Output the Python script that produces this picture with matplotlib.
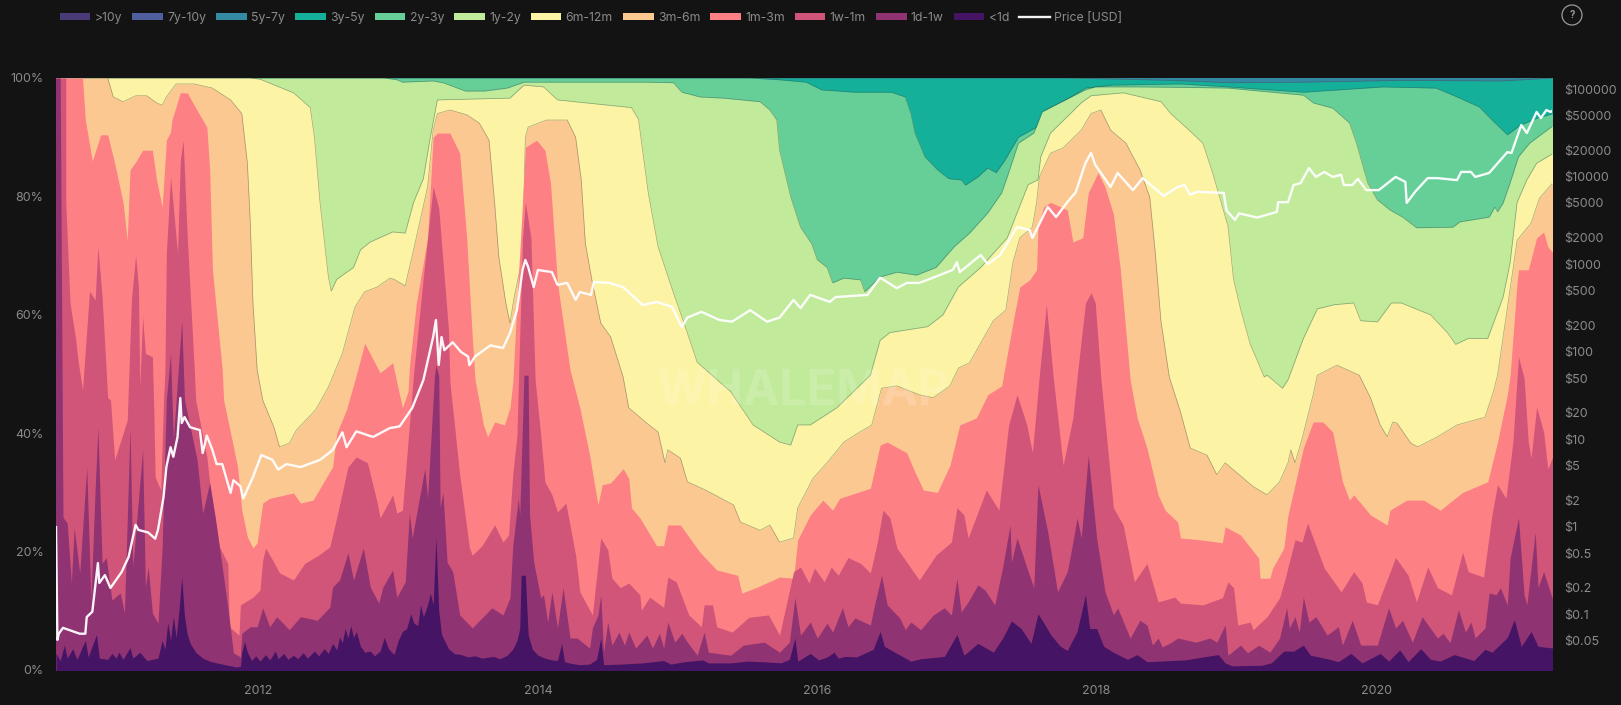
import numpy as np
import matplotlib
matplotlib.use('Agg')
import matplotlib.pyplot as plt
import matplotlib.patches as patches
from matplotlib.ticker import FixedLocator, NullLocator, FuncFormatter

plt.rcParams['font.family'] = ['Inter', 'DejaVu Sans']

# Every band is stored as (decimal year, cumulative % of supply at its upper edge)
top_lt1d = [
    (2010.55,2.8),(2010.58,1.6),(2010.61,4.2),(2010.63,2),(2010.67,3.6),(2010.70,1.8),(2010.76,5),(2010.78,2.2),
    (2010.84,6),(2010.86,2),(2010.92,1.8),(2010.95,2.8),(2010.98,2),(2011.00,3),(2011.03,1.8),(2011.08,3.8),
    (2011.10,2),(2011.15,3),(2011.20,1.6),(2011.28,2),(2011.31,5),(2011.33,3.5),(2011.35,8),(2011.37,5),
    (2011.39,9),(2011.41,5.5),(2011.43,10),(2011.45,15.7),(2011.47,9),(2011.49,6),(2011.51,4.5),(2011.55,3),
    (2011.60,2),(2011.65,1.5),(2011.70,1.2),(2011.78,.8),(2011.84,.5),(2011.87,.6),(2011.88,3),(2011.90,4.8),
    (2011.92,3),(2011.95,1.6),(2011.98,2.4),(2012.01,1.5),(2012.05,2.6),(2012.08,1.7),(2012.12,3.2),(2012.14,1.9),
    (2012.18,2.8),(2012.21,1.8),(2012.25,2.5),(2012.28,1.9),(2012.32,2.9),(2012.35,2),(2012.40,3.2),(2012.43,2.4),
    (2012.47,3.6),(2012.50,2.8),(2012.53,4.5),(2012.56,3.4),(2012.58,5.6),(2012.60,4.6),(2012.62,7),(2012.64,5.4),
    (2012.66,7.5),(2012.68,5.5),(2012.70,6.5),(2012.73,4),(2012.76,3),(2012.80,3.2),(2012.83,2.4),(2012.87,3.2),
    (2012.90,5.5),(2012.93,3.6),(2012.97,2.6),(2013.00,5),(2013.03,6.5),(2013.06,7),(2013.09,9.5),(2013.11,8),
    (2013.14,7.5),(2013.16,11),(2013.18,9),(2013.21,11),(2013.23,13),(2013.25,11),(2013.27,22.3),(2013.29,10),
    (2013.31,6),(2013.33,5),(2013.36,3.6),(2013.40,2.8),(2013.45,2.6),(2013.50,2.2),(2013.55,2.4),(2013.60,2),
    (2013.68,2.3),(2013.73,1.9),(2013.78,2.5),(2013.82,3.5),(2013.85,5),(2013.87,7),(2013.88,16),(2013.91,16),
    (2013.93,6),(2013.96,3.5),(2014.00,2.5),(2014.05,2),(2014.10,1.7),(2014.14,1.6),(2014.17,4.5),(2014.19,1.4),
    (2014.24,1.1),(2014.30,.9),(2014.37,1),(2014.42,1.8),(2014.45,5.4),(2014.47,.9),(2014.60,1),(2014.75,1.2),
    (2014.90,1.6),(2014.95,1),(2015.05,1.4),(2015.18,1.7),(2015.22,1.2),(2015.38,1.2),(2015.50,1.5),(2015.61,1.4),
    (2015.74,1.2),(2015.80,1.8),(2015.84,5.4),(2015.86,1.5),(2015.95,2.8),(2016.01,1.7),(2016.07,2.2),(2016.12,3),
    (2016.15,2),(2016.20,2.3),(2016.28,2.2),(2016.40,3.5),(2016.45,6.5),(2016.48,4),(2016.57,2.8),(2016.67,1.5),
    (2016.74,1.9),(2016.91,2.3),(2017.00,6),(2017.05,2.5),(2017.15,4.5),(2017.26,3),(2017.33,5.5),(2017.39,8.3),
    (2017.46,7),(2017.53,4.5),(2017.58,9.5),(2017.62,8),(2017.67,6),(2017.74,4),(2017.79,3.3),(2017.86,6.5),
    (2017.92,12.7),(2017.95,7),(2018.00,7),(2018.05,4),(2018.12,3),(2018.22,1.8),(2018.29,2.6),(2018.36,1.4),
    (2018.63,1.7),(2018.87,2.6),(2018.92,1.2),(2018.97,.7),(2019.18,.8),(2019.25,1.2),(2019.34,3.2),(2019.41,3.2),
    (2019.48,4.2),(2019.53,2.5),(2019.67,1.8),(2019.73,1.4),(2019.82,2.8),(2019.90,1.2),(2020.03,2.8),(2020.09,1.5),
    (2020.17,3.4),(2020.23,1.4),(2020.32,3.6),(2020.39,1.8),(2020.46,1.5),(2020.56,2.6),(2020.70,1.6),(2020.78,3.5),
    (2020.83,3),(2020.94,5.5),(2020.99,8.5),(2021.04,4),(2021.11,6.5),(2021.16,4),(2021.27,3.7),
]
top_1d1w = [
    (2010.50,100),(2010.58,100),(2010.60,25.8),(2010.63,24.8),(2010.66,14.7),(2010.68,24),(2010.72,16.4),(2010.77,34.3),
    (2010.80,11.8),(2010.83,30.4),(2010.85,41),(2010.88,18),(2010.91,19),(2010.95,11.8),(2011.01,13),(2011.04,9.6),
    (2011.08,41),(2011.10,17.4),(2011.17,37.2),(2011.19,14),(2011.21,17.4),(2011.24,9.6),(2011.28,7.9),(2011.31,20.8),
    (2011.34,45.6),(2011.37,53.5),(2011.39,38.9),(2011.41,45.6),(2011.44,55.7),(2011.45,59),(2011.47,45.6),(2011.56,35.5),
    (2011.58,31),(2011.60,26.5),(2011.65,31.6),(2011.69,25.8),(2011.74,17.4),(2011.78,10.6),(2011.82,2.9),(2011.87,2.2),
    (2011.88,6.2),(2011.94,7.3),(2011.99,7.3),(2012.03,10.5),(2012.08,7.3),(2012.13,9),(2012.22,6.8),(2012.30,9),
    (2012.42,8.4),(2012.51,10.6),(2012.53,14),(2012.58,15.2),(2012.64,19.8),(2012.68,15.2),(2012.75,20.6),(2012.80,14),
    (2012.86,11.3),(2012.89,14),(2012.96,16.9),(2012.99,12.3),(2013.05,14.9),(2013.08,26.5),(2013.10,22.3),(2013.19,34),
    (2013.21,29),(2013.26,49.8),(2013.27,51.5),(2013.29,49.8),(2013.30,27.4),(2013.32,30),(2013.35,18.2),(2013.39,16.6),
    (2013.44,9.3),(2013.53,7.1),(2013.67,10.5),(2013.75,9.3),(2013.80,12.2),(2013.82,21),(2013.86,29),(2013.87,26.2),
    (2013.90,49.8),(2013.93,49.8),(2013.94,26.2),(2013.97,18.2),(2014.02,12.2),(2014.04,12.7),(2014.07,8.1),(2014.10,13.2),
    (2014.14,7.1),(2014.18,13.9),(2014.23,5.4),(2014.28,5.4),(2014.37,3.7),(2014.39,7.1),(2014.43,9.3),(2014.45,12.7),
    (2014.47,3),(2014.50,8.1),(2014.53,4.2),(2014.58,6.4),(2014.62,4.2),(2014.65,6.4),(2014.70,3.7),(2014.78,5.9),
    (2014.82,3.7),(2014.87,6.2),(2014.90,3.7),(2014.93,8.1),(2014.98,4.7),(2015.03,6.2),(2015.07,4.7),(2015.14,2.5),
    (2015.19,6.4),(2015.22,3),(2015.38,2.5),(2015.47,4.2),(2015.62,4.7),(2015.73,3),(2015.80,4.7),(2015.84,12.2),
    (2015.88,5.9),(2015.95,8.1),(2016.00,5.4),(2016.07,7.9),(2016.11,6.4),(2016.18,10.5),(2016.22,7.3),(2016.27,8.8),
    (2016.38,7.6),(2016.41,11),(2016.46,16),(2016.50,11),(2016.59,8.8),(2016.63,6.8),(2016.67,8.1),(2016.74,6.8),
    (2016.83,9.3),(2016.91,10.5),(2016.96,9.3),(2017.00,15.5),(2017.03,9.8),(2017.08,11.5),(2017.15,14.4),(2017.20,13.5),
    (2017.27,11),(2017.33,17.7),(2017.38,24.5),(2017.39,18.2),(2017.43,22.3),(2017.51,16.6),(2017.55,13.9),(2017.58,31.3),
    (2017.65,23.3),(2017.72,13.2),(2017.79,16.6),(2017.83,21.6),(2017.86,25.7),(2017.89,22.3),(2017.94,36.3),(2018.00,22.3),
    (2018.06,13.2),(2018.12,9.3),(2018.15,10.5),(2018.24,5.4),(2018.31,8.4),(2018.36,7.6),(2018.40,4.2),(2018.44,5.4),
    (2018.47,3.9),(2018.53,4.6),(2018.58,5.4),(2018.71,4.7),(2018.81,5.4),(2018.86,4.7),(2018.92,7.6),(2018.94,2.5),
    (2019.03,4.2),(2019.08,2.9),(2019.16,4.2),(2019.24,3),(2019.31,5.4),(2019.36,10.5),(2019.38,7.1),(2019.42,9),
    (2019.45,6.4),(2019.48,12.3),(2019.52,8.1),(2019.57,9),(2019.65,5.9),(2019.73,7.3),(2019.76,4.2),(2019.83,8.4),
    (2019.89,4.2),(2020.01,4.2),(2020.09,10.5),(2020.14,7.1),(2020.19,8.4),(2020.26,4.7),(2020.33,9),(2020.44,5.4),
    (2020.48,6.2),(2020.53,4.6),(2020.59,10.2),(2020.64,6.4),(2020.68,8.1),(2020.71,5.4),(2020.78,7.1),(2020.81,13),
    (2020.86,12.7),(2020.89,13.9),(2020.94,11),(2020.96,18.9),(2021.02,25.7),(2021.06,12.7),(2021.08,11),(2021.14,23.3),
    (2021.16,13.9),(2021.20,16.6),(2021.27,11.5),
]
top_1w1m = [
    (2010.50,100),(2010.62,100),(2010.62,79),(2010.65,62),(2010.69,56),(2010.71,51.9),(2010.74,47.3),(2010.77,57.4),
    (2010.79,64),(2010.83,62.5),(2010.85,71.5),(2010.88,63),(2010.92,46),(2010.94,45.6),(2010.97,35.5),(2011.06,42.2),
    (2011.09,62.5),(2011.12,70),(2011.14,64.7),(2011.15,47.8),(2011.17,59.6),(2011.19,53.5),(2011.24,52.9),(2011.25,44),
    (2011.26,32.6),(2011.30,30.4),(2011.32,45.6),(2011.33,50.7),(2011.34,70.4),(2011.37,83.3),(2011.42,70.4),(2011.44,86),
    (2011.46,89.5),(2011.49,73),(2011.54,50.7),(2011.55,45.6),(2011.63,36),(2011.65,31.6),(2011.72,20.8),(2011.78,18),
    (2011.79,7.3),(2011.86,5.9),(2011.87,11),(2011.96,12.3),(2012.01,13.5),(2012.03,18.6),(2012.05,20.6),(2012.10,18.6),
    (2012.15,16.4),(2012.25,15.2),(2012.33,18),(2012.43,19.4),(2012.51,20.8),(2012.56,25.8),(2012.64,34.3),(2012.70,36),
    (2012.78,35),(2012.85,28.2),(2012.87,25.7),(2012.94,28.7),(2012.96,29.6),(2012.99,26.5),(2013.03,27),(2013.07,38.5),
    (2013.11,50),(2013.18,66.4),(2013.25,81.6),(2013.29,78),(2013.36,57.4),(2013.37,48.6),(2013.44,33),(2013.51,20.6),
    (2013.53,19.4),(2013.60,21),(2013.69,24.5),(2013.75,21.6),(2013.79,22.8),(2013.82,33),(2013.85,39.7),(2013.89,73),
    (2013.91,79),(2013.95,73),(2013.98,49),(2014.02,39.7),(2014.05,31.8),(2014.10,29.6),(2014.14,26.7),(2014.20,28.2),
    (2014.27,19.4),(2014.30,13.2),(2014.39,9.3),(2014.45,22.3),(2014.50,20.3),(2014.53,15.5),(2014.59,13.9),(2014.65,14.7),
    (2014.73,12.7),(2014.74,10.1),(2014.80,12.3),(2014.90,10.6),(2014.93,15.7),(2014.99,14.9),(2015.08,9.3),(2015.17,7.3),
    (2015.19,11),(2015.25,11),(2015.28,7.3),(2015.39,6.4),(2015.51,8.9),(2015.65,9.3),(2015.73,5.9),(2015.83,16.6),
    (2015.88,17.4),(2015.94,14.7),(2015.98,17.2),(2016.05,14.9),(2016.10,17.4),(2016.15,16),(2016.22,19),(2016.31,18),
    (2016.38,16.4),(2016.43,21.6),(2016.47,27),(2016.52,25.7),(2016.57,20.6),(2016.73,15.2),(2016.85,19.4),(2016.92,20.8),
    (2016.96,21.6),(2017.00,27.4),(2017.05,26.2),(2017.08,22.3),(2017.21,30.4),(2017.30,27),(2017.37,41.4),(2017.43,46.5),
    (2017.50,41.4),(2017.54,36.7),(2017.59,49.8),(2017.64,61.7),(2017.69,49.3),(2017.76,34.6),(2017.83,42.6),(2017.86,49.5),
    (2017.92,62),(2017.96,63.7),(2017.99,62),(2018.03,49.3),(2018.12,27.4),(2018.19,24.5),(2018.27,14.9),(2018.36,18),
    (2018.44,11.5),(2018.56,12.3),(2018.60,11.3),(2018.76,11),(2018.90,12.2),(2018.94,14.9),(2018.98,13.9),(2019.01,7.6),
    (2019.10,8.1),(2019.12,6.8),(2019.22,9),(2019.31,12.2),(2019.35,15.5),(2019.42,22),(2019.47,21.6),(2019.51,24.8),
    (2019.63,17.2),(2019.75,13.2),(2019.84,16.6),(2019.90,14.7),(2019.93,11.5),(2020.01,11),(2020.14,19),(2020.23,16),
    (2020.29,11.5),(2020.37,17.4),(2020.44,13.9),(2020.54,12.7),(2020.62,19.9),(2020.66,16.6),(2020.77,15.7),(2020.83,26.2),
    (2020.87,31.3),(2020.93,29),(2020.98,38.5),(2021.02,52.9),(2021.06,49.3),(2021.09,38.5),(2021.11,35.8),(2021.15,44.4),
    (2021.20,40.2),(2021.23,34),(2021.27,36.3),
]
top_1m3m = [
    (2010.50,100),(2010.74,100),(2010.76,92.9),(2010.81,86),(2010.87,90.4),(2010.92,90.4),(2010.97,85.6),(2011.03,79),
    (2011.06,72.6),(2011.08,84.5),(2011.12,85.8),(2011.17,87.8),(2011.24,87.8),(2011.27,82.8),(2011.31,78.2),(2011.34,89.5),
    (2011.37,90.9),(2011.38,92.9),(2011.44,97.5),(2011.49,97.5),(2011.53,95.8),(2011.63,91.7),(2011.65,84.5),(2011.67,67.6),
    (2011.74,50.7),(2011.75,45.6),(2011.80,40),(2011.85,34.3),(2011.88,27),(2011.92,22.5),(2011.96,20.6),(2011.99,21.5),
    (2012.03,28.2),(2012.08,29),(2012.25,29.9),(2012.30,28.2),(2012.39,28.7),(2012.53,34.3),(2012.56,40),(2012.63,44),
    (2012.71,50.7),(2012.76,55.2),(2012.87,50.2),(2012.96,51.9),(2012.99,48.6),(2013.03,44.3),(2013.07,47),(2013.08,51.2),
    (2013.13,62),(2013.21,73),(2013.25,90),(2013.28,90.7),(2013.37,90.7),(2013.44,87.3),(2013.49,73),(2013.53,56.3),
    (2013.55,49),(2013.61,41.4),(2013.64,39.4),(2013.69,41.9),(2013.76,41.4),(2013.80,44.3),(2013.82,48.6),(2013.85,62),
    (2013.89,79),(2013.91,88.3),(2013.99,89.5),(2014.05,87.8),(2014.09,82.3),(2014.14,65.4),(2014.23,50.7),(2014.30,44.3),
    (2014.37,36.3),(2014.43,27.9),(2014.46,31.3),(2014.52,31.6),(2014.61,34),(2014.65,32.4),(2014.67,27.4),(2014.73,25.7),
    (2014.85,21),(2014.90,21),(2014.93,24.5),(2015.02,24.5),(2015.16,19.9),(2015.28,16.9),(2015.43,16),(2015.46,13),
    (2015.57,14),(2015.73,15.7),(2015.83,15.5),(2015.86,22),(2015.95,26.2),(2016.04,28.7),(2016.11,27),(2016.16,29),
    (2016.38,30.7),(2016.45,38),(2016.50,38.5),(2016.64,36.7),(2016.70,33.4),(2016.76,30.4),(2016.86,30),(2016.95,34.6),
    (2017.02,41.4),(2017.14,42.6),(2017.22,46.5),(2017.32,48),(2017.40,58.6),(2017.45,64.7),(2017.52,65.9),(2017.57,67.6),
    (2017.58,74.8),(2017.62,78.2),(2017.67,79),(2017.79,77.7),(2017.83,72.3),(2017.90,73),(2017.94,80.6),(2018.01,84),
    (2018.06,81.6),(2018.12,77),(2018.17,67.6),(2018.24,49),(2018.29,42.6),(2018.36,37.5),(2018.44,29.6),(2018.49,27),
    (2018.58,25),(2018.60,22.3),(2018.74,22),(2018.90,21.5),(2018.92,24.2),(2019.03,22.8),(2019.16,18.9),(2019.17,15.5),
    (2019.24,15.5),(2019.26,17.2),(2019.34,20.6),(2019.37,26.2),(2019.42,31.3),(2019.48,37.5),(2019.55,41.9),(2019.62,41.9),
    (2019.69,40.2),(2019.76,31.8),(2019.81,28.7),(2019.84,29.6),(2019.96,26.2),(2020.08,24.5),(2020.10,27),(2020.22,28.7),
    (2020.34,28.7),(2020.46,27),(2020.62,30),(2020.80,31.8),(2020.87,38.5),(2020.94,46.5),(2020.96,49.8),(2021.01,65.4),
    (2021.02,67.6),(2021.09,67.6),(2021.15,73),(2021.20,74),(2021.23,71.5),(2021.27,70.4),
]
top_3m6m = [
    (2010.50,100),(2010.92,100),(2010.96,96.8),(2011.03,96),(2011.12,97),(2011.20,97),(2011.27,95.8),(2011.31,95.4),
    (2011.34,96.8),(2011.41,99),(2011.54,99),(2011.67,98.3),(2011.80,96.3),(2011.88,94),(2011.92,85.6),(2011.94,76),
    (2011.96,62),(2011.99,50.7),(2012.03,45.6),(2012.11,41),(2012.15,37.7),(2012.22,38.3),(2012.27,40.5),(2012.41,44),
    (2012.50,47.8),(2012.60,53.5),(2012.69,61.3),(2012.76,63.9),(2012.85,64.7),(2012.94,66.2),(2012.97,66),(2013.05,64.9),
    (2013.11,71),(2013.21,81.6),(2013.25,91.2),(2013.28,94),(2013.37,94.6),(2013.49,93.8),(2013.58,92.4),(2013.65,89.5),
    (2013.69,78.9),(2013.72,69.8),(2013.77,62),(2013.80,58.6),(2013.83,63),(2013.89,69.8),(2013.91,90),(2013.93,91.7),
    (2014.06,92.9),(2014.21,92.9),(2014.27,90),(2014.31,82.8),(2014.34,72),(2014.39,65.4),(2014.45,58.6),(2014.52,56.3),
    (2014.61,49.5),(2014.65,44.3),(2014.78,41.7),(2014.86,40.2),(2014.91,35),(2014.93,37.2),(2015.02,35.8),(2015.07,31.8),
    (2015.20,30.4),(2015.40,27.9),(2015.45,25),(2015.59,23.6),(2015.66,24.5),(2015.73,21.6),(2015.83,22.3),(2015.86,27.4),
    (2015.97,32.4),(2016.07,35),(2016.19,38.5),(2016.29,40),(2016.39,41.4),(2016.46,47.6),(2016.57,48),(2016.73,46.5),
    (2016.83,46),(2016.95,48),(2017.01,51),(2017.09,51.9),(2017.26,59),(2017.35,60.8),(2017.40,68.8),(2017.45,73),
    (2017.54,74.8),(2017.57,79),(2017.59,83.3),(2017.67,87.3),(2017.76,88.2),(2017.89,91.2),(2017.96,94),(2018.03,94.6),
    (2018.10,91.2),(2018.21,89),(2018.31,84.5),(2018.38,79.9),(2018.42,70.4),(2018.46,59),(2018.52,49.5),(2018.60,43.6),
    (2018.67,37.5),(2018.79,36.3),(2018.86,33),(2018.92,35),(2019.00,33.4),(2019.12,31),(2019.22,29.6),(2019.31,31.8),
    (2019.37,35),(2019.39,37.2),(2019.42,35),(2019.47,39),(2019.55,46.5),(2019.58,49.8),(2019.72,51.5),(2019.88,49.8),
    (2019.96,46),(2020.03,41.4),(2020.08,39.4),(2020.12,41.9),(2020.15,41.7),(2020.25,38.3),(2020.30,37.7),(2020.44,39.4),
    (2020.58,41.4),(2020.78,42.7),(2020.84,47),(2020.87,49.8),(2020.98,67.6),(2021.01,72.6),(2021.11,75.5),(2021.17,79.7),
    (2021.27,82.4),
]
top_6m12m = [
    (2010.50,100),(2011.94,100),(2012.01,99.8),(2012.25,97.5),(2012.37,95),(2012.40,90),(2012.44,79),(2012.50,66.4),
    (2012.52,64),(2012.56,66),(2012.68,68),(2012.73,71),(2012.80,72.3),(2012.96,74),(2013.05,73.8),(2013.11,79),
    (2013.18,83),(2013.23,90),(2013.28,96.3),(2013.80,96.6),(2013.90,98.8),(2014.04,98.5),(2014.14,96.3),(2014.67,95),
    (2014.72,93),(2014.79,80.6),(2014.86,71.5),(2014.97,63.7),(2015.04,59),(2015.14,52),(2015.26,49.5),(2015.38,47),
    (2015.54,41.4),(2015.73,38.5),(2015.81,38),(2015.86,41.4),(2015.95,41.4),(2016.14,44.3),(2016.38,49.8),(2016.45,55.7),
    (2016.52,57),(2016.79,58),(2016.90,60),(2017.01,64.7),(2017.17,68),(2017.36,73),(2017.51,82),(2017.58,82.8),
    (2017.60,86.7),(2017.67,90.7),(2017.89,95.8),(2017.96,97),(2018.19,97.5),(2018.46,96),(2018.53,94),(2018.67,91),
    (2018.76,89),(2018.83,84),(2018.94,75),(2018.98,66),(2019.03,61),(2019.10,55),(2019.20,49.5),(2019.22,49.8),
    (2019.33,47.6),(2019.37,49),(2019.48,56),(2019.58,61),(2019.70,61.7),(2019.84,62),(2019.89,59),(2020.01,58.8),
    (2020.11,62),(2020.18,62),(2020.39,60),(2020.51,57),(2020.57,55),(2020.66,56),(2020.80,56),(2020.91,63),
    (2020.96,68.8),(2021.01,79),(2021.08,82.8),(2021.15,85.6),(2021.27,87.3),
]
top_1y2y = [
    (2010.50,100),(2012.90,100),(2012.99,99.7),(2013.03,99.3),(2013.25,99.5),(2013.32,99.2),(2013.48,97.8),(2013.62,97.8),
    (2013.78,98.3),(2013.90,99.3),(2014.06,99.3),(2014.78,99.3),(2014.97,99.2),(2015.03,97.6),(2015.16,96.8),(2015.33,96.6),
    (2015.59,96),(2015.66,94.6),(2015.71,92.9),(2015.73,87.8),(2015.81,79.9),(2015.88,74.8),(2015.96,72),(2016.00,69.3),
    (2016.07,68),(2016.11,65.4),(2016.19,66.2),(2016.31,65.9),(2016.34,63.9),(2016.45,66.4),(2016.57,67.2),(2016.71,66.7),
    (2016.85,68),(2016.98,71.5),(2017.09,73.8),(2017.22,77.2),(2017.32,80.6),(2017.37,84),(2017.44,89),(2017.55,90.7),
    (2017.61,94.3),(2017.75,96),(2017.92,98),(2017.99,98.5),(2018.30,98.5),(2018.67,98.4),(2018.94,98.3),(2019.48,97.1),
    (2019.55,95.8),(2019.69,94.9),(2019.81,92.4),(2019.86,89),(2019.94,82.3),(2020.01,79.4),(2020.10,77.7),(2020.19,76.5),
    (2020.29,74.7),(2020.55,74.8),(2020.60,75.7),(2020.81,76.5),(2020.85,78.2),(2020.87,77.4),(2020.91,78.9),(2020.96,82.3),
    (2021.02,86.7),(2021.10,89),(2021.27,92),
]
top_2y3y = [
    (2010.50,100),(2015.52,100),(2015.73,99.7),(2015.92,99.3),(2016.03,98),(2016.27,97.6),(2016.53,97.6),(2016.63,96.8),
    (2016.67,94),(2016.70,90.7),(2016.77,86.7),(2016.86,84.5),(2016.94,83),(2017.03,82.8),(2017.06,81.9),(2017.15,83.3),
    (2017.22,84.8),(2017.28,84),(2017.34,86),(2017.44,90),(2017.57,91.7),(2017.64,94.6),(2017.78,96.3),(2017.92,98.3),
    (2018.11,98.8),(2018.60,99),(2018.94,98.5),(2019.48,97.6),(2020.05,98.5),(2020.43,98.3),(2020.58,96.8),(2020.74,95.1),
    (2020.83,92.9),(2020.94,90.4),(2021.03,92),(2021.15,93.2),(2021.27,94),
]
top_3y5y = [(2010.50,100),(2017.80,100),(2018.55,99.6),(2018.95,99.2),(2019.48,99.3),(2020.20,99.6),(2020.90,99.5),(2021.27,100)]
top_5y7y = [(2010.50,100),(2021.27,100)]
top_7y10y = [(2010.50,100),(2021.27,100)]
top_10y = [(2010.50,100),(2021.27,100)]

price_usd = [
    (2010.55,.99),(2010.56,.051),(2010.57,.06),(2010.60,.07),(2010.72,.06),(2010.76,.06),(2010.77,.093),(2010.81,.107),
    (2010.83,.205),(2010.85,.385),(2010.86,.228),(2010.90,.28),(2010.94,.2),(2011.02,.304),(2011.07,.452),(2011.12,1.05),
    (2011.14,.92),(2011.21,.86),(2011.26,.73),(2011.28,.92),(2011.32,2.19),(2011.34,4.8),(2011.37,8.1),(2011.39,6.3),
    (2011.42,10.6),(2011.44,29.5),(2011.45,15.3),(2011.47,17.9),(2011.51,13.7),(2011.58,12.7),(2011.60,6.95),(2011.63,11),
    (2011.67,7.5),(2011.70,5.2),(2011.74,5.2),(2011.80,2.43),(2011.82,3.4),(2011.87,2.9),(2011.89,2.1),(2011.96,3.7),
    (2012.02,6.6),(2012.10,5.8),(2012.14,4.5),(2012.20,5.2),(2012.30,4.8),(2012.44,5.8),(2012.53,7.5),(2012.60,12),
    (2012.63,8.1),(2012.70,12.3),(2012.82,10.6),(2012.94,13.4),(2013.01,14),(2013.10,22.7),(2013.18,47.4),(2013.25,147),
    (2013.27,230),(2013.29,70.6),(2013.31,147),(2013.33,104),(2013.39,128),(2013.45,99),(2013.50,88),(2013.51,70),
    (2013.55,88),(2013.66,118),(2013.75,110),(2013.80,163),(2013.85,299),(2013.89,857),(2013.91,1115),(2013.93,930),
    (2013.97,546),(2014.00,857),(2014.10,810),(2014.14,580),(2014.21,610),(2014.27,390),(2014.30,480),(2014.38,445),
    (2014.40,625),(2014.51,610),(2014.61,546),(2014.75,341),(2014.85,370),(2014.96,324),(2015.03,191),(2015.07,245),
    (2015.17,285),(2015.30,230),(2015.39,220),(2015.52,298),(2015.64,220),(2015.73,245),(2015.83,390),(2015.88,315),
    (2015.95,445),(2016.09,370),(2016.13,420),(2016.36,445),(2016.40,546),(2016.45,700),(2016.57,530),(2016.64,610),
    (2016.73,610),(2016.83,700),(2016.97,860),(2017.00,1050),(2017.02,810),(2017.17,1270),(2017.22,1000),(2017.31,1270),
    (2017.43,2650),(2017.52,2450),(2017.54,1990),(2017.65,4490),(2017.71,3450),(2017.79,5100),(2017.85,6600),(2017.92,14300),
    (2017.96,18600),(2017.99,13600),(2018.10,7600),(2018.15,11000),(2018.26,7000),(2018.33,9600),(2018.48,6000),(2018.58,7600),
    (2018.63,8000),(2018.67,6200),(2018.72,6700),(2018.91,6500),(2018.93,4100),(2018.99,3200),(2019.02,3800),(2019.15,3400),
    (2019.29,3950),(2019.30,5100),(2019.37,5100),(2019.41,8000),(2019.46,8400),(2019.52,12500),(2019.57,9900),(2019.63,11300),
    (2019.69,9900),(2019.75,10500),(2019.77,8000),(2019.83,8000),(2019.87,9400),(2019.93,7000),(2020.02,7000),(2020.14,9900),
    (2020.21,8700),(2020.22,5000),(2020.28,6700),(2020.37,9600),(2020.44,9600),(2020.58,9100),(2020.61,11300),(2020.68,11300),
    (2020.71,9900),(2020.81,11000),(2020.94,19000),(2020.97,18600),(2021.04,38800),(2021.08,31400),(2021.15,54700),(2021.18,46600),
    (2021.22,57500),(2021.25,54700),(2021.27,57500),
]

band_labels = ['>10y', '7y-10y', '5y-7y', '3y-5y', '2y-3y', '1y-2y', '6m-12m', '3m-6m', '1m-3m', '1w-1m', '1d-1w', '<1d']
band_tops = [top_10y, top_7y10y, top_5y7y, top_3y5y, top_2y3y, top_1y2y, top_6m12m, top_3m6m, top_1m3m, top_1w1m, top_1d1w, top_lt1d]
band_colors = ['#4b3a78', '#4f5f9e', '#358aa3', '#14b09a', '#66cf98', '#c1ea9b',
               '#fdf3a5', '#fcc892', '#fd8085', '#d05578', '#903372', '#451464']
outlined = ['1y-2y', '6m-12m', '3m-6m', '2y-3y', '3y-5y']

year_ticks = [2012, 2014, 2016, 2018, 2020]
pct_ticks = [0, 20, 40, 60, 80, 100]
price_ticks = [0.05, 0.1, 0.2, 0.5, 1, 2, 5, 10, 20, 50, 100, 200, 500, 1000, 2000, 5000, 10000, 20000, 50000, 100000]

BG = '#131313'
GREY = '#8b8b8b'

fig = plt.figure(figsize=(16.21, 7.05), dpi=100, facecolor=BG)
ax = fig.add_axes([56 / 1621, 1 - 670 / 705, 1496 / 1621, 592 / 705], facecolor=BG)

# painter's order: tallest edge first, each lower band covers the rest
handles = []
for i, (label, pts, color) in enumerate(zip(band_labels, band_tops, band_colors)):
    x, y = np.array(pts).T
    h = ax.fill_between(x, -2, y, color=color, linewidth=0, zorder=2 + i * 0.1, label=label)
    handles.append(h)
    if label in outlined:
        ax.plot(x, y, color='#3c4a3c', lw=0.5, alpha=0.45, zorder=2 + i * 0.1 + 0.01)

ax.set_xlim(2010.55, 2021.26)
ax.set_ylim(0, 100)
ax.set_xticks(year_ticks)
ax.set_yticks(pct_ticks)
ax.set_yticklabels([f'{p}%' for p in pct_ticks])
ax.tick_params(length=0, labelsize=9, colors=GREY)
ax.tick_params(axis='x', pad=11)
ax.tick_params(axis='y', pad=9)
for s in ax.spines.values():
    s.set_visible(False)

ax2 = ax.twinx()
ax2.set_yscale('log')
ax2.set_ylim(0.0231, 133600)
px, py = np.array(price_usd).T
line, = ax2.plot(px, py, color='#ffffff', lw=1.7, alpha=0.95, solid_joinstyle='round', label='Price [USD]', zorder=5)
ax2.yaxis.set_major_locator(FixedLocator(price_ticks))
ax2.yaxis.set_minor_locator(NullLocator())
ax2.yaxis.set_major_formatter(FuncFormatter(lambda v, _: f'${v:g}' if v < 1 else f'${int(v)}'))
ax2.tick_params(length=0, labelsize=9, colors=GREY, pad=9)
for s in ax2.spines.values():
    s.set_visible(False)

ax.text(0.5, 0.47, 'WHALEMAP', transform=ax.transAxes, color='#ffffff', alpha=0.15, fontsize=35,
        fontweight='bold', ha='center', va='center', zorder=4)

leg = fig.legend(handles + [line], band_labels + ['Price [USD]'], loc='upper left', bbox_to_anchor=(55 / 1621, 1 - 7 / 705),
                 ncol=13, frameon=False, fontsize=8.8, labelcolor=GREY, handlelength=2.5, handleheight=0.55,
                 handletextpad=0.35, columnspacing=0.83, borderpad=0.4, borderaxespad=0)

# help button, top right
fig.add_artist(patches.Ellipse((1572 / 1621, 1 - 15 / 705), 20 / 1621, 20 / 705, transform=fig.transFigure,
                               facecolor='none', edgecolor='#9a9a9a', linewidth=0.9))
fig.text(1572 / 1621, 1 - 15 / 705, '?', color='#9a9a9a', fontsize=7, ha='center', va='center', fontweight='bold')

fig.savefig('out.png', dpi=100, facecolor=BG)
